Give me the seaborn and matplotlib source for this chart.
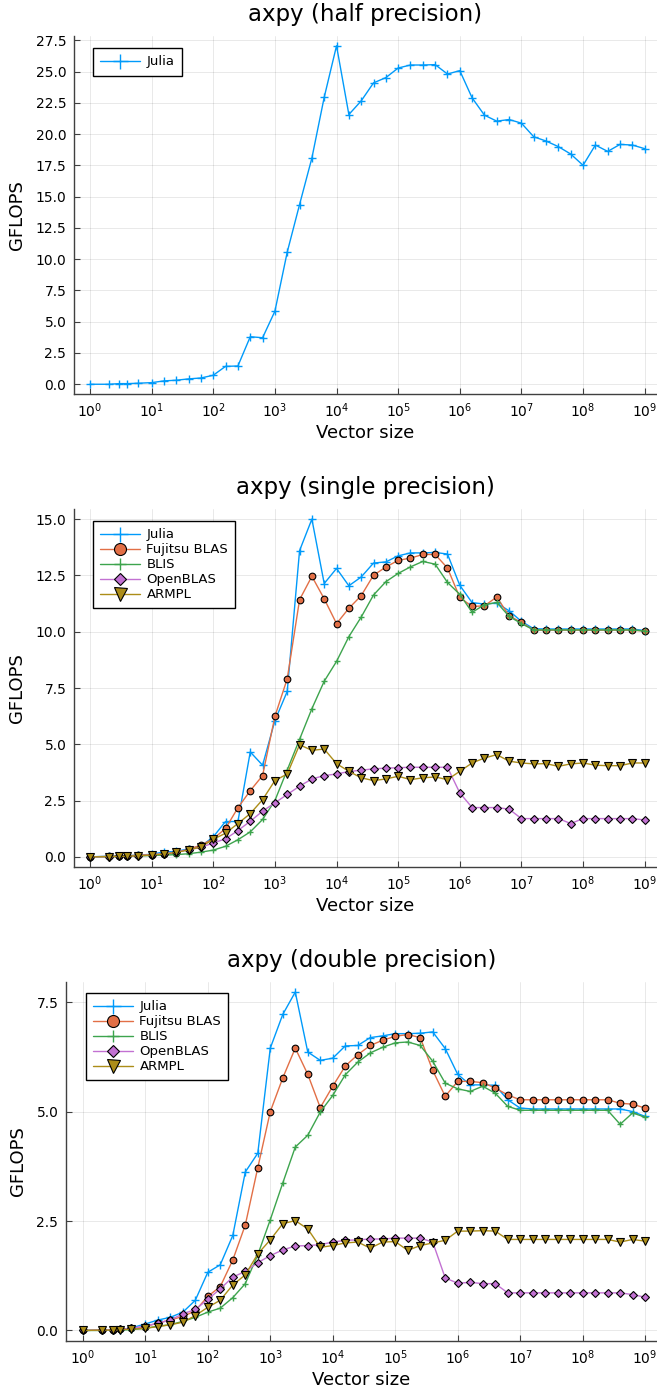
import matplotlib
matplotlib.use("Agg")
import matplotlib.pyplot as plt
import matplotlib.ticker as mticker
import seaborn as sns

# vector sizes (x axis)
sizes = [1, 2, 3, 4, 6, 10, 16, 25, 40, 63,
         100, 158, 251, 398, 631, 1000, 1585, 2512, 3981, 6310,
         10000, 15849, 25119, 39811, 63096, 100000, 158489, 251189, 398107, 630957,
         1000000, 1584893, 2511886, 3981072, 6309573, 10000000, 15848932, 25118864, 39810717, 63095734,
         100000000, 158489319, 251188643, 398107171, 630957344, 1000000000]
decades = [1, 10, 100, 1000, 10000, 100000, 1000000, 10000000, 100000000, 1000000000]

# half precision
half_julia = [0.0, 0.0, 0.05, 0.05, 0.08, 0.13, 0.27, 0.32, 0.43, 0.5,
              0.72, 1.43, 1.46, 3.8, 3.72, 5.84, 10.57, 14.37, 18.09, 22.95,
              27.07, 21.57, 22.66, 24.1, 24.52, 25.29, 25.53, 25.53, 25.56, 24.81,
              25.08, 22.9, 21.52, 21.04, 21.17, 20.88, 19.79, 19.45, 19.0, 18.41,
              17.51, 19.13, 18.62, 19.18, 19.13, 18.84]

# single precision
single_julia = [0.0, 0.03, 0.04, 0.06, 0.07, 0.12, 0.22, 0.24, 0.36, 0.47,
                0.89, 1.57, 1.57, 4.66, 4.07, 6.05, 7.35, 13.6, 15.0, 12.14,
                12.81, 12.04, 12.43, 13.05, 13.1, 13.37, 13.5, 13.5, 13.52, 13.45,
                12.06, 11.29, 11.23, 11.27, 10.93, 10.46, 10.13, 10.12, 10.12, 10.12,
                10.12, 10.12, 10.12, 10.12, 10.12, 10.05]
single_fujitsu = [0.0, 0.02, 0.04, 0.05, 0.07, 0.1, 0.13, 0.19, 0.34, 0.52,
                  0.8, 1.26, 2.18, 2.94, 3.61, 6.24, 7.91, 11.42, 12.46, 11.46,
                  10.36, 11.04, 11.6, 12.51, 12.87, 13.17, 13.27, 13.43, 13.43, 12.83,
                  11.52, 11.12, 11.15, 11.54, 10.71, 10.41, 10.07, 10.07, 10.07, 10.07,
                  10.07, 10.07, 10.07, 10.07, 10.07, 10.03]
single_blis = [0.0, 0.01, 0.02, 0.03, 0.04, 0.06, 0.08, 0.1, 0.14, 0.21,
               0.3, 0.47, 0.76, 1.11, 1.66, 2.5, 3.86, 5.22, 6.58, 7.8,
               8.68, 9.78, 10.65, 11.63, 12.22, 12.59, 12.88, 13.12, 13.0, 12.19,
               11.66, 10.86, 11.2, 11.3, 10.68, 10.36, 10.08, 10.08, 10.08, 10.08,
               10.08, 10.08, 10.08, 10.08, 10.08, 10.03]
single_openblas = [0.0, 0.01, 0.02, 0.03, 0.05, 0.08, 0.14, 0.22, 0.32, 0.42,
                   0.62, 0.8, 1.17, 1.58, 2.03, 2.4, 2.77, 3.14, 3.46, 3.61,
                   3.68, 3.79, 3.85, 3.91, 3.94, 3.96, 3.98, 3.98, 3.98, 3.98,
                   2.84, 2.19, 2.19, 2.19, 2.12, 1.7, 1.7, 1.7, 1.7, 1.48,
                   1.7, 1.7, 1.7, 1.7, 1.7, 1.64]
single_armpl = [0.0, 0.01, 0.02, 0.03, 0.05, 0.08, 0.13, 0.2, 0.31, 0.44,
                0.78, 1.05, 1.48, 1.92, 2.54, 3.39, 3.68, 4.98, 4.73, 4.79,
                4.14, 3.8, 3.51, 3.39, 3.46, 3.58, 3.43, 3.51, 3.55, 3.43,
                3.8, 4.17, 4.39, 4.54, 4.25, 4.17, 4.13, 4.14, 4.02, 4.13,
                4.17, 4.07, 4.05, 4.05, 4.17, 4.17]

# double precision
double_julia = [0.0, 0.01, 0.02, 0.02, 0.06, 0.15, 0.24, 0.3, 0.42, 0.69,
                1.33, 1.5, 2.17, 3.62, 4.05, 6.45, 7.22, 7.73, 6.36, 6.17,
                6.22, 6.5, 6.51, 6.69, 6.73, 6.78, 6.78, 6.79, 6.82, 6.44,
                5.85, 5.61, 5.61, 5.6, 5.27, 5.08, 5.06, 5.06, 5.06, 5.06,
                5.06, 5.06, 5.06, 5.06, 5.0, 4.89]
double_fujitsu = [0.0, 0.01, 0.02, 0.03, 0.05, 0.09, 0.17, 0.24, 0.32, 0.45,
                  0.78, 1.0, 1.61, 2.41, 3.72, 5.0, 5.77, 6.45, 5.85, 5.09,
                  5.58, 6.04, 6.3, 6.51, 6.63, 6.72, 6.76, 6.69, 5.94, 5.35,
                  5.69, 5.69, 5.66, 5.54, 5.38, 5.27, 5.27, 5.27, 5.27, 5.27,
                  5.27, 5.27, 5.27, 5.19, 5.17, 5.08]
double_blis = [0.0, 0.0, 0.01, 0.01, 0.02, 0.05, 0.1, 0.13, 0.21, 0.3,
               0.42, 0.51, 0.75, 1.07, 1.73, 2.53, 3.37, 4.19, 4.46, 4.99,
               5.37, 5.84, 6.13, 6.34, 6.47, 6.57, 6.59, 6.51, 6.15, 5.65,
               5.52, 5.46, 5.58, 5.42, 5.12, 5.03, 5.03, 5.03, 5.03, 5.03,
               5.03, 5.03, 5.03, 4.71, 4.97, 4.87]
double_openblas = [0.0, 0.01, 0.02, 0.03, 0.05, 0.1, 0.17, 0.24, 0.38, 0.48,
                   0.71, 0.95, 1.22, 1.35, 1.55, 1.71, 1.84, 1.93, 1.94, 1.96,
                   2.02, 2.06, 2.07, 2.09, 2.09, 2.11, 2.11, 2.11, 2.02, 1.2,
                   1.08, 1.1, 1.07, 1.07, 0.86, 0.86, 0.86, 0.86, 0.86, 0.86,
                   0.86, 0.86, 0.86, 0.86, 0.82, 0.76]
double_armpl = [0.0, 0.01, 0.01, 0.02, 0.03, 0.05, 0.09, 0.13, 0.19, 0.34,
                0.53, 0.69, 1.04, 1.27, 1.75, 2.07, 2.44, 2.51, 2.32, 1.9,
                1.94, 2.0, 2.02, 1.88, 2.02, 2.03, 1.83, 1.94, 2.0, 2.06,
                2.27, 2.27, 2.28, 2.27, 2.08, 2.08, 2.08, 2.08, 2.08, 2.08,
                2.08, 2.08, 2.08, 2.02, 2.08, 2.04]

libraries = ["Julia", "Fujitsu BLAS", "BLIS", "OpenBLAS", "ARMPL"]
colors = {"Julia": "#009AFA", "Fujitsu BLAS": "#E26F46", "BLIS": "#3DA44D",
          "OpenBLAS": "#C271D2", "ARMPL": "#AC8D18"}
markers = {"Julia": "+", "Fujitsu BLAS": "o", "BLIS": "+",
           "OpenBLAS": "D", "ARMPL": "v"}
msizes = {"Julia": 6, "Fujitsu BLAS": 4.8, "BLIS": 5, "OpenBLAS": 3.6, "ARMPL": 5.2}

sns.set_theme(style="white")
plt.rcParams["font.family"] = ["DejaVu Sans"]
plt.rcParams["text.color"] = "black"
plt.rcParams["axes.labelcolor"] = "black"

W, H = 657, 1389
fig = plt.figure(figsize=(W / 100, H / 100), dpi=100)


def panel(left, top, bottom, xlim, ylim, title, series, legend_xy):
    ax = fig.add_axes([left / W, 1 - bottom / H, (W - left) / W, (bottom - top) / H])
    for name, values in series:
        c = colors[name]
        m = markers[name]
        sns.lineplot(x=sizes, y=values, ax=ax, color=c, marker=m,
                     markersize=msizes[name], linewidth=1, estimator=None,
                     markeredgecolor=c if m == "+" else "black",
                     markeredgewidth=1 if m == "+" else 0.8,
                     label=name)
    ax.set_xscale("log")
    ax.set_xlim(*xlim)
    ax.set_ylim(*ylim)
    ax.xaxis.set_major_locator(mticker.FixedLocator(decades))
    ax.xaxis.set_major_formatter(mticker.LogFormatterSciNotation())
    ax.xaxis.set_minor_locator(mticker.NullLocator())
    ax.yaxis.set_major_locator(mticker.MultipleLocator(2.5))
    ax.yaxis.set_major_formatter(mticker.FormatStrFormatter("%.1f"))
    ax.grid(True, color="black", alpha=0.1, linewidth=0.6)
    for s in ["top", "right"]:
        ax.spines[s].set_visible(False)
    for s in ["left", "bottom"]:
        ax.spines[s].set_color("#404040")
        ax.spines[s].set_linewidth(1.0)
    ax.tick_params(bottom=True, left=True, direction="in", length=4, width=0.8,
                   color="#404040", labelsize=10, labelcolor="black")
    ax.tick_params(axis="y", pad=5.5)
    ax.tick_params(axis="x", pad=5)
    ax.set_xlabel("Vector size", fontsize=13, labelpad=3)
    ax.set_ylabel("GFLOPS", fontsize=13, labelpad=7)
    ax.set_title(title, fontsize=16.5, pad=11, color="black")
    lx = (legend_xy[0] - left) / (W - left)
    ly = (bottom - legend_xy[1]) / (bottom - top)
    ax.legend(loc="upper left", bbox_to_anchor=(lx, ly), borderaxespad=0,
              frameon=True, fancybox=False, edgecolor="black", framealpha=1,
              fontsize=9.5, markerscale=1.8, handlelength=3.0, handletextpad=0.5,
              labelspacing=0.15, borderpad=0.55)
    return ax


panel(74, 36, 394, (10 ** -0.26, 10 ** 9.2), (-0.78, 27.85),
      "axpy (half precision)", [("Julia", half_julia)], (93, 48))

panel(74, 509, 867, (10 ** -0.26, 10 ** 9.2), (-0.45, 15.45),
      "axpy (single precision)",
      list(zip(libraries, [single_julia, single_fujitsu, single_blis,
                           single_openblas, single_armpl])), (93, 521))

panel(66, 982, 1341, (10 ** -0.27, 10 ** 9.19), (-0.24, 7.96),
      "axpy (double precision)",
      list(zip(libraries, [double_julia, double_fujitsu, double_blis,
                           double_openblas, double_armpl])), (86, 993))

fig.savefig("out.png", dpi=100)
